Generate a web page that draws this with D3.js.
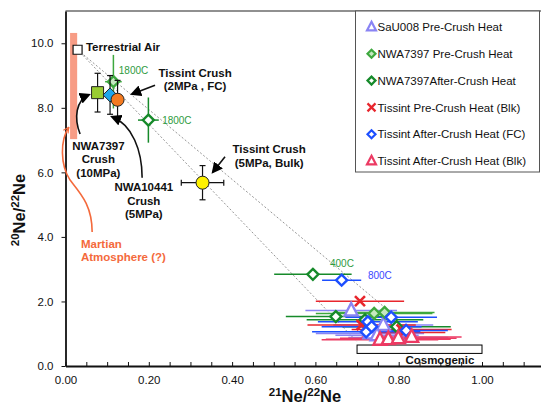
<!DOCTYPE html>
<html>
<head>
<meta charset="utf-8">
<script src="https://cdn.jsdelivr.net/npm/d3@7"></script>
<style>
  body { margin: 0; background: #fff; }
  svg { display: block; font-family: "Liberation Sans", Arial, sans-serif; }
</style>
</head>
<body>
<svg width="541" height="406"></svg>
<script>
(function (d3) {
  'use strict';

  // ---- data ----
  const seriesNames = ['SaU008 Pre-Crush Heat', 'NWA7397 Pre-Crush Heat', 'NWA7397After-Crush Heat',
    'Tissint Pre-Crush Heat (Blk)', 'Tissint After-Crush Heat (FC)', 'Tissint After-Crush Heat (Blk)'];

  const sauX = [0.686, 0.763, 0.731, 0.799, 0.748];
  const sauY = [1.72, 1.27, 1.01, 0.88, 0.95];
  const sauEx = [0.11, 0.12, 0.13, 0.12, 0.10];
  const sauEy = [0.08, 0.06, 0.06, 0.06, 0.06];

  const nwaPreX = [0.115, 0.741, 0.766];
  const nwaPreY = [8.81, 1.63, 1.66];
  const nwaPreEx = [0.02, 0.14, 0.12];
  const nwaPreEy = [0.83, 0.08, 0.08];

  const nwaAftX = [0.199, 0.594, 0.649, 0.719, 0.795];
  const nwaAftY = [7.62, 2.84, 1.53, 1.43, 1.22];
  const nwaAftEx = [0.025, 0.093, 0.12, 0.14, 0.13];
  const nwaAftEy = [0.7, 0.12, 0.06, 0.06, 0.06];

  const tisPreX = [0.707, 0.711, 0.807, 0.812];
  const tisPreY = [2.01, 1.27, 1.13, 1.04];
  const tisPreEx = [0.106, 0.13, 0.12, 0.10];
  const tisPreEy = [0.06, 0.06, 0.06, 0.06];

  const tisFcX = [0.663, 0.782, 0.726, 0.722, 0.818, 0.735];
  const tisFcY = [2.66, 1.51, 1.37, 1.06, 1.10, 1.22];
  const tisFcEx = [0.047, 0.11, 0.12, 0.13, 0.10, 0.12];
  const tisFcEy = [0.06, 0.06, 0.06, 0.06, 0.06, 0.06];

  const tisBlkX = [0.755, 0.775, 0.799, 0.831];
  const tisBlkY = [0.81, 0.83, 0.86, 0.90];
  const tisBlkEx = [0.14, 0.15, 0.14, 0.12];
  const tisBlkEy = [0.06, 0.06, 0.06, 0.08];

  // crush points (black error bars)
  const crushNames = ['NWA7397 Crush', 'NWA10441 Crush', 'Tissint Crush 2MPa', 'Tissint Crush 5MPa'];
  const crushX = [0.077, 0.107, 0.125, 0.329];
  const crushY = [8.47, 8.40, 8.25, 5.68];
  const crushEx = [0, 0, 0, 0.051];
  const crushEy = [0.6, 0.6, 0.6, 0.53];

  const airPoint = [0.029, 9.8];
  const marsRange = { x0: 0.011, x1: 0.028, y0: 7.03, y1: 10.32 };
  const cosmoRange = { x0: 0.70, x1: 1.00, y0: 0.39, y1: 0.65 };
  const mixEnds = [[0.70, 0.75], [0.80, 1.45]];

  const xTicks = d3.range(0, 1.2001, 0.05);
  const xLabels = [0, 0.2, 0.4, 0.6, 0.8, 1.0];
  const yTicks = [0, 2, 4, 6, 8, 10];

  // ---- styles ----
  const seriesStyle = [
    { shape: 'tri', color: '#8a84f4', fill: '#ffffff', size: 13 },
    { shape: 'dia', color: '#3ea83e', fill: '#c5e8c0', size: 11 },
    { shape: 'dia', color: '#168a2a', fill: '#ffffff', size: 11 },
    { shape: 'x', color: '#e8262d', fill: 'none', size: 10 },
    { shape: 'dia', color: '#1d4fff', fill: '#ffffff', size: 11 },
    { shape: 'tri', color: '#ec3a63', fill: '#ffffff', size: 13 }
  ];
  const crushStyle = [
    { shape: 'sq', fill: '#99cc33', size: 12 },
    { shape: 'dia', fill: '#1ea6ea', size: 14 },
    { shape: 'circ', fill: '#f47b20', size: 13 },
    { shape: 'circ', fill: '#fff200', size: 13 }
  ];

  const series = seriesNames.map((name, i) => {
    const xs = [sauX, nwaPreX, nwaAftX, tisPreX, tisFcX, tisBlkX][i];
    const ys = [sauY, nwaPreY, nwaAftY, tisPreY, tisFcY, tisBlkY][i];
    const exs = [sauEx, nwaPreEx, nwaAftEx, tisPreEx, tisFcEx, tisBlkEx][i];
    const eys = [sauEy, nwaPreEy, nwaAftEy, tisPreEy, tisFcEy, tisBlkEy][i];
    return { name, style: seriesStyle[i], points: xs.map((v, j) => ({ x: v, y: ys[j], ex: exs[j], ey: eys[j] })) };
  });

  const svg = d3.select('svg');
  const width = +svg.attr('width');

  const x = d3.scaleLinear().domain([0, 1.2]).range([65.5, 65.5 + 1.2 * 416.5]);
  const y = d3.scaleLinear().domain([0, 11]).range([366, 11]);

  // marker paths centred on 0,0
  const markerPath = (shape, s) => {
    const h = s / 2;
    if (shape === 'tri') return `M0,${-s * 0.58}L${h},${s * 0.38}L${-h},${s * 0.38}Z`;
    if (shape === 'dia') return `M0,${-h}L${h},0L0,${h}L${-h},0Z`;
    if (shape === 'x') return `M${-h},${-h}L${h},${h}M${-h},${h}L${h},${-h}`;
    if (shape === 'sq') return `M${-h},${-h}H${h}V${h}H${-h}Z`;
    return d3.symbol(d3.symbolCircle, Math.PI * h * h)();
  };

  const defs = svg.append('defs');
  defs.append('marker').attr('id', 'arrowK')
    .attr('viewBox', '0 0 10 10').attr('refX', 8).attr('refY', 5)
    .attr('markerWidth', 7).attr('markerHeight', 7).attr('orient', 'auto')
    .append('path').attr('d', 'M0,0L10,5L0,10Z').attr('fill', '#000');
  defs.append('marker').attr('id', 'arrowO')
    .attr('viewBox', '0 0 10 10').attr('refX', 9).attr('refY', 5)
    .attr('markerWidth', 7).attr('markerHeight', 7).attr('orient', 'auto')
    .attr('markerUnits', 'userSpaceOnUse')
    .append('path').attr('d', 'M1,1L9,5L1,9').attr('fill', 'none')
    .attr('stroke', '#f46a3c').attr('stroke-width', 1.6);

  // top frame line
  svg.append('line')
    .attr('x1', x(0)).attr('x2', width)
    .attr('y1', y(11)).attr('y2', y(11))
    .attr('stroke', '#222').attr('stroke-width', 1.2);

  // Martian atmosphere bar
  svg.append('rect')
    .attr('x', x(marsRange.x0)).attr('y', y(marsRange.y1))
    .attr('width', x(marsRange.x1) - x(marsRange.x0))
    .attr('height', y(marsRange.y0) - y(marsRange.y1))
    .attr('fill', '#f79c85');

  // mixing lines
  svg.append('g').selectAll('line').data(mixEnds).enter().append('line')
    .attr('x1', x(airPoint[0])).attr('y1', y(airPoint[1]))
    .attr('x2', d => x(d[0])).attr('y2', d => y(d[1]))
    .attr('stroke', '#8a8a8a').attr('stroke-width', 0.9)
    .attr('stroke-dasharray', '2,2');

  // cosmogenic box
  svg.append('rect')
    .attr('x', x(cosmoRange.x0)).attr('y', y(cosmoRange.y1))
    .attr('width', x(cosmoRange.x1) - x(cosmoRange.x0))
    .attr('height', y(cosmoRange.y0) - y(cosmoRange.y1))
    .attr('fill', '#fff').attr('stroke', '#000').attr('stroke-width', 1);

  // axes
  const xAxis = d3.axisBottom(x).tickValues(xTicks).tickSizeInner(-4).tickSizeOuter(0).tickPadding(10)
    .tickFormat(d => xLabels.some(v => Math.abs(v - d) < 1e-6) ? d3.format('.2f')(d) : '');
  const xAxisG = svg.append('g').attr('transform', `translate(0,${y(0)})`).call(xAxis);
  const yAxis = d3.axisLeft(y).tickValues(yTicks).tickSizeInner(4).tickSizeOuter(0).tickPadding(8)
    .tickFormat(d3.format('.1f'));
  const yAxisG = svg.append('g').attr('transform', `translate(${x(0)},0)`).call(yAxis);
  [xAxisG, yAxisG].forEach(g => {
    g.select('.domain').attr('stroke', '#111').attr('stroke-width', 1.8);
    g.selectAll('.tick line').attr('stroke', '#111').attr('stroke-width', 1);
    g.selectAll('.tick text').attr('font-size', 11.5).attr('fill', '#111')
      .attr('font-family', '"Liberation Sans", Arial, sans-serif');
  });

  // axis titles
  const supTitle = (g, a, b) => {
    const t = g.append('text').attr('text-anchor', 'middle').attr('font-weight', 'bold')
      .attr('font-size', 16.5).attr('fill', '#111');
    t.append('tspan').attr('font-size', 11.5).attr('dy', -6).text(a);
    t.append('tspan').attr('dy', 6).text('Ne/');
    t.append('tspan').attr('font-size', 11.5).attr('dy', -6).text(b);
    t.append('tspan').attr('dy', 6).text('Ne');
    return t;
  };
  supTitle(svg.append('g').attr('transform', 'translate(305,402)'), '21', '22');
  supTitle(svg.append('g').attr('transform', 'translate(25,210) rotate(-90)'), '20', '22');

  // series error bars and markers
  const plotG = svg.append('g');
  series.forEach(s => {
    const g = plotG.append('g');
    const pts = g.selectAll('g').data(s.points).enter().append('g');
    pts.append('line')
      .attr('x1', d => x(d.x - d.ex)).attr('x2', d => x(d.x + d.ex))
      .attr('y1', d => y(d.y)).attr('y2', d => y(d.y))
      .attr('stroke', s.style.color).attr('stroke-width', 1.5);
    pts.append('line')
      .attr('x1', d => x(d.x)).attr('x2', d => x(d.x))
      .attr('y1', d => y(d.y - d.ey)).attr('y2', d => y(d.y + d.ey))
      .attr('stroke', s.style.color).attr('stroke-width', 1.5);
  });
  series.forEach(s => {
    plotG.append('g').selectAll('path').data(s.points).enter().append('path')
      .attr('transform', d => `translate(${x(d.x)},${y(d.y)})`)
      .attr('d', markerPath(s.style.shape, s.style.size))
      .attr('fill', s.style.fill)
      .attr('stroke', s.style.color)
      .attr('stroke-width', s.style.shape === 'x' ? 2.6 : 2.4)
      .attr('stroke-linejoin', 'miter');
  });

  // crush points with black error bars
  const crush = crushNames.map((name, i) => ({ name, x: crushX[i], y: crushY[i], ex: crushEx[i], ey: crushEy[i], style: crushStyle[i] }));
  const crushG = svg.append('g');
  const cap = 3;
  crush.forEach(d => {
    const g = crushG.append('g').attr('stroke', '#111').attr('stroke-width', 1.2);
    g.append('line').attr('x1', x(d.x)).attr('x2', x(d.x)).attr('y1', y(d.y - d.ey)).attr('y2', y(d.y + d.ey));
    [d.y - d.ey, d.y + d.ey].forEach(v => g.append('line')
      .attr('x1', x(d.x) - cap).attr('x2', x(d.x) + cap).attr('y1', y(v)).attr('y2', y(v)));
    if (d.ex > 0) {
      g.append('line').attr('x1', x(d.x - d.ex)).attr('x2', x(d.x + d.ex)).attr('y1', y(d.y)).attr('y2', y(d.y));
      [d.x - d.ex, d.x + d.ex].forEach(v => g.append('line')
        .attr('x1', x(v)).attr('x2', x(v)).attr('y1', y(d.y) - cap).attr('y2', y(d.y) + cap));
    }
  });
  crush.forEach(d => {
    crushG.append('path')
      .attr('transform', `translate(${x(d.x)},${y(d.y)})`)
      .attr('d', markerPath(d.style.shape, d.style.size))
      .attr('fill', d.style.fill).attr('stroke', '#222').attr('stroke-width', 1);
  });

  // terrestrial air
  svg.append('path')
    .attr('transform', `translate(${x(airPoint[0])},${y(airPoint[1])})`)
    .attr('d', markerPath('sq', 9))
    .attr('fill', '#fff').attr('stroke', '#111').attr('stroke-width', 1.2);

  // ---- annotations (data coordinates) ----
  const ann = svg.append('g');
  const label = (lines, px, py, opts) => {
    const o = Object.assign({ anchor: 'start', size: 11.5, weight: 'bold', color: '#111', lh: 0.41 }, opts);
    lines.forEach((t, i) => ann.append('text')
      .attr('x', x(px)).attr('y', y(py - i * o.lh))
      .attr('text-anchor', o.anchor).attr('font-size', o.size)
      .attr('font-weight', o.weight).attr('fill', o.color).text(t));
  };
  label(['Terrestrial Air'], 0.049, 9.76);
  label(['1800C'], 0.128, 9.05, { size: 10, weight: 'normal', color: '#2e9b3e' });
  label(['1800C'], 0.232, 7.50, { size: 10, weight: 'normal', color: '#2e9b3e' });
  label(['400C'], 0.635, 3.07, { size: 10, weight: 'normal', color: '#2e9b3e' });
  label(['800C'], 0.726, 2.70, { size: 10, weight: 'normal', color: '#3a46ff' });
  label(['Tissint Crush', '(2MPa , FC)'], 0.311, 8.96, { anchor: 'middle' });
  label(['Tissint Crush', '(5MPa, Bulk)'], 0.489, 6.585, { anchor: 'middle' });
  label(['NWA7397', 'Crush', '(10MPa)'], 0.079, 6.69, { anchor: 'middle' });
  label(['NWA10441', 'Crush', '(5MPa)'], 0.188, 5.42, { anchor: 'middle', lh: 0.42 });
  label(['Martian', 'Atmosphere (?)'], 0.037, 3.66, { color: '#f46a3c' });
  label(['Cosmogenic'], 0.899, 0.06, { anchor: 'middle' });

  const curve = pts => `M${x(pts[0][0])},${y(pts[0][1])}C` +
    pts.slice(1).map(p => `${x(p[0])},${y(p[1])}`).join(' ');

  const arrows = [
    { d: `M${x(0.215)},${y(8.70)}L${x(0.160)},${y(8.43)}` },
    { d: `M${x(0.383)},${y(6.48)}L${x(0.354)},${y(6.01)}` },
    { d: curve([[0.035, 7.19], [0.020, 7.69], [0.025, 8.24], [0.056, 8.40]]) },
    { d: curve([[0.184, 5.83], [0.184, 6.69], [0.160, 7.47], [0.112, 7.72]]) }
  ];
  ann.selectAll('path.arrow').data(arrows).enter().append('path')
    .attr('class', 'arrow').attr('d', d => d.d)
    .attr('fill', 'none').attr('stroke', '#111').attr('stroke-width', 1.6)
    .attr('marker-end', 'url(#arrowK)');

  ann.append('path')
    .attr('d', curve([[0.064, 4.15], [0.064, 4.99], [0.035, 5.36], [0.011, 5.76]]) +
      'C' + [[-0.013, 6.23], [-0.013, 7.00], [0.008, 7.40]].map(p => `${x(p[0])},${y(p[1])}`).join(' '))
    .attr('fill', 'none').attr('stroke', '#f46a3c').attr('stroke-width', 1.6)
    .attr('marker-end', 'url(#arrowO)');

  // ---- legend ----
  const legendG = svg.append('g').attr('transform', 'translate(355.5,11)');
  legendG.append('rect').attr('width', 184).attr('height', 161)
    .attr('fill', '#fff').attr('stroke', '#555').attr('stroke-width', 1);
  const rows = legendG.selectAll('g.row').data(series).enter().append('g')
    .attr('class', 'row').attr('transform', (d, i) => `translate(16,${16 + i * 26.8})`);
  rows.append('path')
    .attr('d', d => markerPath(d.style.shape, d.style.shape === 'tri' ? 9 : 8))
    .attr('fill', d => d.style.fill).attr('stroke', d => d.style.color).attr('stroke-width', 2.2);
  rows.append('text').attr('x', 6).attr('dy', '0.36em')
    .attr('font-size', 11.5).attr('fill', '#111').text(d => d.name);

}(d3));
</script>
</body>
</html>
